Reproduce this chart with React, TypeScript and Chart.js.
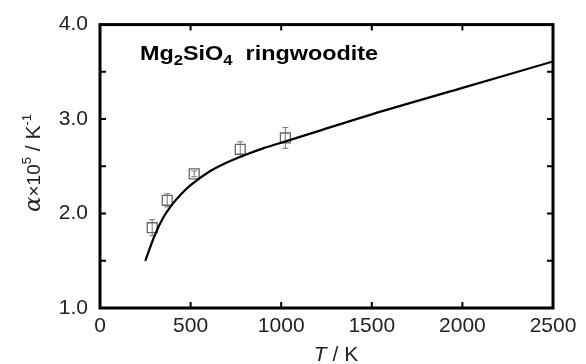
import React, { useEffect, useRef } from "react";
import { Chart, registerables } from "chart.js";
Chart.register(...registerables);

// Fitted curve (T in K, alpha x 1e5 in 1/K)
const curveT = [250, 300, 350, 400, 450, 500, 600, 700, 800, 900, 1000, 1200, 1500, 2000, 2500];
const curveA = [1.5, 1.76, 1.96, 2.1, 2.21, 2.3, 2.44, 2.54, 2.62, 2.69, 2.75, 2.87, 3.05, 3.33, 3.61];

// Measured points
const dataT = [288, 371, 520, 774, 1023];
const dataA = [1.85, 2.14, 2.42, 2.68, 2.8];
const dataErr = [0.085, 0.07, 0.03, 0.08, 0.11];

// Axis ticks
const xTickValues = [0, 500, 1000, 1500, 2000, 2500];
const yTickValues = [1.0, 2.0, 3.0, 4.0];
const xInnerTicks = [500, 1000, 1500, 2000];
const yInnerTicks = [1.5, 2.0, 2.5, 3.0, 3.5];

const FONT = "'Liberation Sans', Arial, sans-serif";

const decorPlugin = {
  id: "decor",
  beforeDatasetsDraw(chart: any) {
    const { ctx } = chart;
    const xs = chart.scales.x;
    const ys = chart.scales.y;
    ctx.save();
    ctx.strokeStyle = "#777";
    ctx.lineWidth = 1;
    dataT.forEach((t, i) => {
      const px = xs.getPixelForValue(t);
      const top = ys.getPixelForValue(dataA[i] + dataErr[i]);
      const bot = ys.getPixelForValue(dataA[i] - dataErr[i]);
      ctx.beginPath();
      ctx.moveTo(px, top);
      ctx.lineTo(px, bot);
      ctx.moveTo(px - 3, top);
      ctx.lineTo(px + 3, top);
      ctx.moveTo(px - 3, bot);
      ctx.lineTo(px + 3, bot);
      ctx.stroke();
    });
    ctx.restore();
  },
  afterDraw(chart: any) {
    const { ctx, chartArea: a } = chart;
    const xs = chart.scales.x;
    const ys = chart.scales.y;
    ctx.save();
    // frame
    ctx.strokeStyle = "#000";
    ctx.lineWidth = 3;
    ctx.strokeRect(a.left, a.top, a.right - a.left, a.bottom - a.top);
    // inward ticks
    ctx.lineWidth = 2;
    ctx.beginPath();
    xInnerTicks.forEach((v) => {
      const px = xs.getPixelForValue(v);
      ctx.moveTo(px, a.bottom);
      ctx.lineTo(px, a.bottom - 6);
      ctx.moveTo(px, a.top);
      ctx.lineTo(px, a.top + 6);
    });
    yInnerTicks.forEach((v) => {
      const py = ys.getPixelForValue(v);
      ctx.moveTo(a.left, py);
      ctx.lineTo(a.left + 6, py);
      ctx.moveTo(a.right, py);
      ctx.lineTo(a.right - 6, py);
    });
    ctx.stroke();

    // inset title: Mg2SiO4 ringwoodite (stretched horizontally)
    ctx.fillStyle = "#000";
    ctx.textBaseline = "alphabetic";
    ctx.textAlign = "left";
    const parts: [string, boolean][] = [
      ["Mg", false],
      ["2", true],
      ["SiO", false],
      ["4", true],
      ["  ringwoodite", false],
    ];
    let w = 0;
    parts.forEach(([s, sub]) => {
      ctx.font = sub ? `bold 15px ${FONT}` : `bold 21px ${FONT}`;
      w += ctx.measureText(s).width;
    });
    const sc = 238 / w;
    ctx.save();
    ctx.translate(140, 60);
    ctx.scale(sc, 1);
    let x = 0;
    parts.forEach(([s, sub]) => {
      ctx.font = sub ? `bold 15px ${FONT}` : `bold 21px ${FONT}`;
      ctx.fillText(s, x, sub ? 5 : 0);
      x += ctx.measureText(s).width;
    });
    ctx.restore();

    // x title: T / K
    ctx.fillStyle = "#222";
    ctx.font = `italic 21px ${FONT}`;
    const tW = ctx.measureText("T").width;
    ctx.font = `21px ${FONT}`;
    const rW = ctx.measureText(" / K").width;
    const sx = 336 - (tW + rW) / 2;
    ctx.font = `italic 21px ${FONT}`;
    ctx.fillText("T", sx, 361);
    ctx.font = `21px ${FONT}`;
    ctx.fillText(" / K", sx + tW, 361);

    // y title: α×10^5 / K^-1 rotated
    ctx.translate(32, 163);
    ctx.rotate(-Math.PI / 2);
    const ypartsDef: [string, string, number][] = [
      ["α", `italic 23px 'DejaVu Serif', serif`, 0],
      ["×10", `19px ${FONT}`, 0],
      ["5", `13px ${FONT}`, -9],
      [" / K", `21px ${FONT}`, 0],
      ["-1", `13px ${FONT}`, -9],
    ];
    let total = 0;
    ypartsDef.forEach(([s, f]) => {
      ctx.font = f;
      total += ctx.measureText(s).width;
    });
    let cx = -total / 2;
    ypartsDef.forEach(([s, f, dy]) => {
      ctx.font = f;
      ctx.fillText(s, cx, 8 + dy);
      cx += ctx.measureText(s).width;
    });
    ctx.restore();
  },
};

export default function App() {
  const ref = useRef<HTMLCanvasElement>(null);
  useEffect(() => {
    if (!ref.current) return;
    const chart = new Chart(ref.current, {
      type: "scatter",
      data: {
        datasets: [
          {
            type: "line",
            data: curveT.map((t, i) => ({ x: t, y: curveA[i] })),
            borderColor: "#000",
            borderWidth: 2.2,
            pointRadius: 0,
            cubicInterpolationMode: "monotone",
            fill: false,
          } as any,
          {
            type: "scatter",
            data: dataT.map((t, i) => ({ x: t, y: dataA[i] })),
            pointStyle: "rect",
            pointRadius: 7,
            backgroundColor: "rgba(255,255,255,0)",
            borderColor: "#666",
            borderWidth: 1.3,
          } as any,
        ],
      },
      options: {
        responsive: false,
        animation: false,
        layout: { padding: { left: 0, right: 33, top: 15, bottom: 0 } },
        plugins: { legend: { display: false }, tooltip: { enabled: false } },
        scales: {
          x: {
            type: "linear",
            min: 0,
            max: 2500,
            grid: { display: false, drawTicks: false },
            border: { display: false },
            afterBuildTicks: (s: any) => {
              s.ticks = xTickValues.map((v) => ({ value: v }));
            },
            afterFit: (s: any) => {
              s.height = 56;
            },
            ticks: {
              padding: 6,
              color: "#222",
              font: { family: FONT, size: 21 },
              maxRotation: 0,
              callback: (v: any) => String(v),
            },
          },
          y: {
            type: "linear",
            min: 1,
            max: 4,
            grid: { display: false, drawTicks: false },
            border: { display: false },
            afterBuildTicks: (s: any) => {
              s.ticks = yTickValues.map((v) => ({ value: v }));
            },
            afterFit: (s: any) => {
              s.width = 100;
            },
            ticks: {
              padding: 12,
              color: "#222",
              font: { family: FONT, size: 21 },
              callback: (v: any) => Number(v).toFixed(1),
            },
          },
        },
      },
      plugins: [decorPlugin],
    });
    return () => chart.destroy();
  }, []);
  return (
    <div style={{ position: "fixed", left: 0, top: 0, width: 586, height: 364, background: "#fff" }}>
      <canvas ref={ref} width={586} height={364} style={{ display: "block" }} />
    </div>
  );
}
